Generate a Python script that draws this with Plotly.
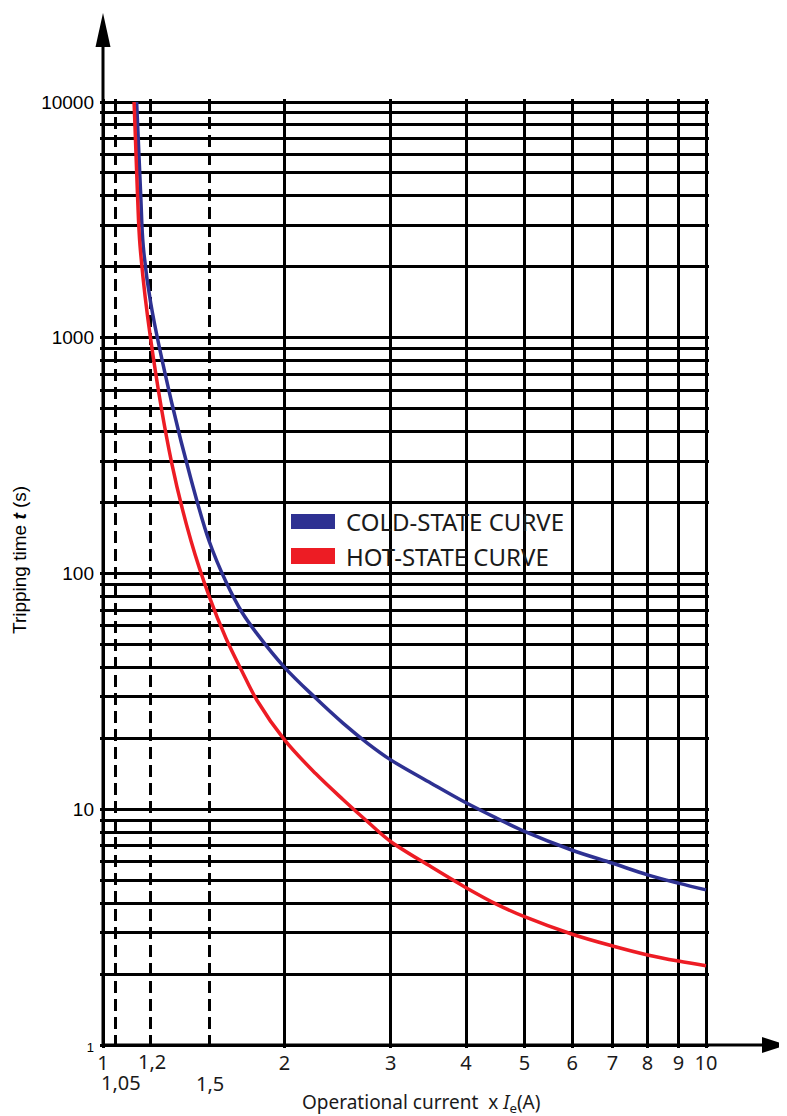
import math
import plotly.graph_objects as go

# ---- data ----
cold_x = [1.137, 1.155, 1.166, 1.2, 1.3, 1.4, 1.5, 1.6, 1.7, 1.8, 2, 2.25, 2.5, 2.75, 3, 3.5, 4, 4.5, 5, 6, 7, 8, 9, 10]
cold_y = [10000, 4000, 2450, 1400, 530, 250, 137, 92, 68.5, 55.6, 40, 29.7, 23.2, 19.0, 16.2, 12.9, 10.65, 9.15, 8.05, 6.7, 5.9, 5.27, 4.86, 4.55]
hot_x = [1.126, 1.141, 1.152, 1.2, 1.3, 1.4, 1.5, 1.6, 1.7, 1.8, 2, 2.25, 2.5, 2.75, 3, 3.5, 4, 4.5, 5, 6, 7, 8, 9, 10]
hot_y = [10000, 4000, 2450, 980, 294, 137, 80, 53, 38.5, 29, 19.7, 14.2, 11.0, 8.83, 7.3, 5.7, 4.65, 3.95, 3.5, 2.95, 2.63, 2.41, 2.27, 2.17]

series_names = ["COLD-STATE CURVE", "HOT-STATE CURVE"]
series_colors = ["#2e3192", "#ed1c24"]

x_major = [1, 2, 3, 4, 5, 6, 7, 8, 9, 10]
x_major_labels = ["1", "2", "3", "4", "5", "6", "7", "8", "9", "10"]
dashed_x = [1.05, 1.2, 1.5]
dashed_labels = ["1,05", "1,2", "1,5"]

y_major = [1, 10, 100, 1000, 10000]
y_major_labels = ['<span style="font-size:13px">1</span>', "10", "100", "1000", "10000"]
decades = [1, 10, 100, 1000]
multipliers = [2, 3, 4, 5, 6, 7, 8, 9]
y_minor = [d * m for d in decades for m in multipliers]

legend_cell_x = [2, 6]
legend_cell_y = [100, 200]

# ---- layout geometry (page has an 8px body margin) ----
W, H = 779, 1108
ML, MR, MT, MB = 92, 78, 91, 68
PAD_X = 3 / 603.0      # decades of padding so edge gridlines are drawn
PAD_Y = 3 / 235.75
PL, PR, PT, PB = 8 + ML, 8 + W - MR, 8 + MT, 8 + H - MB   # plot area in window pixels
GRID_W = 2.5


def PX(px):
    return (px - PL) / (PR - PL)


def PY(py):
    return (PB - py) / (PB - PT)


fig = go.Figure()
for xs, ys, nm, col in [(cold_x, cold_y, series_names[0], series_colors[0]),
                        (hot_x, hot_y, series_names[1], series_colors[1])]:
    fig.add_trace(go.Scatter(x=xs, y=ys, mode="lines", name=nm,
                             line=dict(color=col, width=3.5, shape="spline", smoothing=1.0),
                             showlegend=False, hoverinfo="x+y+name"))

fig.update_layout(
    width=W, height=H,
    margin=dict(l=ML, r=MR, t=MT, b=MB, autoexpand=False),
    plot_bgcolor="white", paper_bgcolor="white",
    showlegend=False,
)

fig.update_xaxes(
    type="log", range=[-PAD_X, 1 + PAD_X],
    tickmode="array", tickvals=x_major, ticktext=x_major_labels,
    showgrid=True, gridcolor="black", gridwidth=GRID_W,
    zeroline=False, showline=False, ticks="",
    tickfont=dict(family="Noto Sans", size=20, color="#1a1a1a"),
    ticklabelstandoff=1,
    minor=dict(tickmode="array", tickvals=dashed_x, showgrid=True, gridcolor="black",
               gridwidth=GRID_W, griddash="12px,6px", ticks=""),
)
fig.update_yaxes(
    type="log", range=[-PAD_Y, 4 + PAD_Y],
    tickmode="array", tickvals=y_major, ticktext=y_major_labels,
    showgrid=True, gridcolor="black", gridwidth=GRID_W,
    zeroline=False, showline=False, ticks="",
    tickfont=dict(family="Liberation Sans, Arial", size=19, color="black"),
    ticklabelstandoff=5,
    minor=dict(tickmode="array", tickvals=y_minor, showgrid=True, gridcolor="black",
               gridwidth=GRID_W, ticks=""),
)

shapes = []
# white legend cell (its border redraws the grid lines around it)
shapes.append(dict(type="rect", xref="x", yref="y",
                   x0=math.log10(legend_cell_x[0]), x1=math.log10(legend_cell_x[1]),
                   y0=math.log10(legend_cell_y[0]), y1=math.log10(legend_cell_y[1]),
                   fillcolor="white", line=dict(color="black", width=GRID_W), layer="between"))
# axis lines with arrow heads
shapes.append(dict(type="line", xref="paper", yref="paper", x0=PX(103), x1=PX(103),
                   y0=PY(1046), y1=PY(42), line=dict(color="black", width=3)))
shapes.append(dict(type="path", xref="paper", yref="paper",
                   path=f"M {PX(95.5)},{PY(47)} L {PX(110.5)},{PY(47)} L {PX(103)},{PY(13)} Z",
                   fillcolor="black", line=dict(color="black", width=0)))
shapes.append(dict(type="line", xref="paper", yref="paper", x0=PX(102), x1=PX(766),
                   y0=PY(1045), y1=PY(1045), line=dict(color="black", width=3)))
shapes.append(dict(type="path", xref="paper", yref="paper",
                   path=f"M {PX(762)},{PY(1037)} L {PX(762)},{PY(1053)} L {PX(787)},{PY(1045)} Z",
                   fillcolor="black", line=dict(color="black", width=0)))
# legend swatches
for (y0, y1), c in zip([(514, 529), (548, 564)], series_colors):
    shapes.append(dict(type="rect", xref="paper", yref="paper", x0=PX(291), x1=PX(335),
                       y0=PY(y1), y1=PY(y0), fillcolor=c, line=dict(width=0), layer="above"))
fig.update_layout(shapes=shapes)

annotations = []
for name, yc in zip(series_names, [521, 556]):
    annotations.append(dict(xref="paper", yref="paper", x=PX(344), y=PY(yc), text=name,
                            showarrow=False, xanchor="left", yanchor="middle",
                            font=dict(family="Noto Sans", size=24, color="#1a1a1a")))
dashed_label_pos = [(121, 1082), (152, 1061), (210, 1083)]
for xv, lab, (pxl, pyl) in zip(dashed_x, dashed_labels, dashed_label_pos):
    annotations.append(dict(xref="x", yref="paper", x=math.log10(xv), y=PY(pyl),
                            text=lab, showarrow=False, xanchor="center", yanchor="middle",
                            xshift=(pxl - (103 + 603 * math.log10(xv))),
                            font=dict(family="Noto Sans", size=20, color="#1a1a1a")))
annotations.append(dict(xref="paper", yref="paper", x=PX(19), y=PY(560), textangle=-90,
                        text="Tripping time <b><i>t</i></b> (s)", showarrow=False,
                        xanchor="center", yanchor="middle",
                        font=dict(family="Liberation Sans, Arial", size=19, color="black")))
annotations.append(dict(xref="paper", yref="paper", x=PX(421), y=PY(1103),
                        text="Operational current \u00a0x <i>I</i><sub>e</sub>(A)", showarrow=False,
                        xanchor="center", yanchor="middle",
                        font=dict(family="Noto Sans", size=19, color="#1a1a1a")))
fig.update_layout(annotations=annotations)

fig.write_html("out.html")
